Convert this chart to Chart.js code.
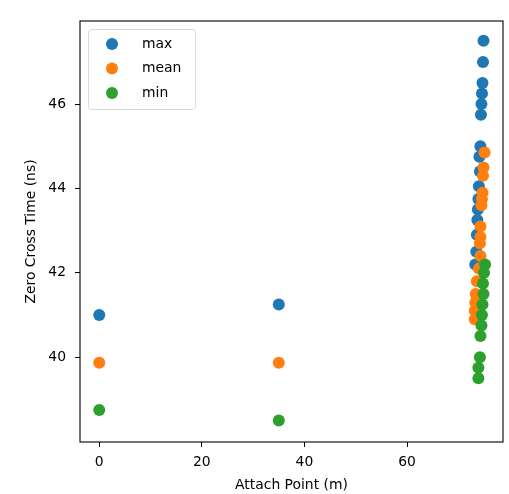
<!DOCTYPE html>
<html lang="en">
<head>
    <title>Zero Cross Time vs Attach Point</title>
    <meta charset="utf-8">
    <script src="https://cdn.jsdelivr.net/npm/chart.js"></script>
    <style>
        body {
            margin: 0;
            background: white;
        }
        #chart {
            display: block;
        }
    </style>
</head>
<body>
    <canvas id="chart" width="509" height="494"></canvas>

    <script>
        // data
        const seriesNames = ['max', 'mean', 'min'];
        const seriesColors = ['#1f77b4', '#ff7f0e', '#2ca02c'];

        const maxAttach = [0, 35, 74.9, 74.8, 74.7, 74.6, 74.5, 74.4, 74.3, 74.1, 74.2, 74.0, 73.9, 73.8, 73.7, 73.6, 73.5, 73.3];
        const maxTime = [41.0, 41.25, 47.5, 47.0, 46.5, 46.25, 46.0, 45.75, 45.0, 44.75, 44.4, 44.05, 43.75, 43.5, 43.25, 42.9, 42.5, 42.2];

        const meanAttach = [0, 35, 75.1, 74.9, 74.8, 74.7, 74.6, 74.5, 74.3, 74.3, 74.2, 74.3, 74.0, 73.6, 73.4, 73.3, 73.2, 73.2];
        const meanTime = [39.87, 39.87, 44.85, 44.5, 44.3, 43.9, 43.75, 43.6, 43.1, 42.85, 42.7, 42.4, 42.1, 41.8, 41.5, 41.3, 41.1, 40.9];

        const minAttach = [0, 35, 75.2, 75.0, 74.8, 74.9, 74.7, 74.6, 74.5, 74.3, 74.2, 73.9, 73.9];
        const minTime = [38.75, 38.5, 42.2, 42.0, 41.75, 41.5, 41.25, 41.0, 40.75, 40.5, 40.0, 39.75, 39.5];

        const xTicks = [0, 20, 40, 60];
        const yTicks = [40, 42, 44, 46];

        function toPoints(xs, ys) {
            return xs.map(function (x, i) { return { x: x, y: ys[i] }; });
        }

        const font = { family: 'DejaVu Sans', size: 13.9 };

        // box around the plot area, like matplotlib spines
        const frame = {
            id: 'frame',
            afterDraw(chart) {
                const a = chart.chartArea;
                const ctx = chart.ctx;
                ctx.save();
                ctx.strokeStyle = '#000';
                ctx.lineWidth = 1.1;
                ctx.strokeRect(a.left, a.top, a.right - a.left, a.bottom - a.top);
                ctx.restore();
            }
        };

        // legend in the upper left corner
        const boxLegend = {
            id: 'boxLegend',
            afterDraw(chart) {
                const ctx = chart.ctx;
                const x0 = 88, y0 = 29, w = 107, h = 80;
                ctx.save();
                ctx.fillStyle = 'rgba(255,255,255,0.8)';
                ctx.strokeStyle = '#d9d9d9';
                ctx.lineWidth = 1;
                ctx.beginPath();
                ctx.roundRect(x0 + 0.5, y0 + 0.5, w, h, 3);
                ctx.fill();
                ctx.stroke();
                ctx.font = '13.9px "DejaVu Sans"';
                ctx.textBaseline = 'middle';
                chart.data.datasets.forEach(function (ds, i) {
                    const cy = y0 + 15 + i * 24.5;
                    ctx.fillStyle = ds.backgroundColor;
                    ctx.beginPath();
                    ctx.arc(x0 + 24, cy, 6, 0, Math.PI * 2);
                    ctx.fill();
                    ctx.fillStyle = '#000';
                    ctx.fillText(ds.label, x0 + 54, cy);
                });
                ctx.restore();
            }
        };

        new Chart(document.getElementById('chart'), {
            type: 'scatter',
            data: {
                datasets: [
                    { label: seriesNames[0], data: toPoints(maxAttach, maxTime), backgroundColor: seriesColors[0], order: 3 },
                    { label: seriesNames[1], data: toPoints(meanAttach, meanTime), backgroundColor: seriesColors[1], order: 2 },
                    { label: seriesNames[2], data: toPoints(minAttach, minTime), backgroundColor: seriesColors[2], order: 1 }
                ]
            },
            options: {
                responsive: false,
                animation: false,
                layout: {
                    padding: { top: 21, right: 5, left: 0, bottom: 0 }
                },
                elements: {
                    point: { radius: 6, borderWidth: 0, hoverRadius: 6 }
                },
                plugins: {
                    legend: { display: false },
                    tooltip: { enabled: false }
                },
                scales: {
                    x: {
                        type: 'linear',
                        min: -3.75,
                        max: 78.7,
                        afterBuildTicks: function (axis) {
                            axis.ticks = xTicks.map(function (v) { return { value: v }; });
                        },
                        afterFit: function (axis) { axis.height = 52; },
                        grid: {
                            drawOnChartArea: false,
                            tickLength: 5,
                            tickColor: '#000',
                            tickWidth: 1
                        },
                        border: { display: false },
                        ticks: {
                            color: '#000',
                            font: font,
                            padding: 7,
                            maxRotation: 0
                        },
                        title: {
                            display: true,
                            text: 'Attach Point (m)',
                            color: '#000',
                            font: font,
                            padding: { top: 0, bottom: 0 }
                        }
                    },
                    y: {
                        type: 'linear',
                        min: 37.99,
                        max: 47.97,
                        afterBuildTicks: function (axis) {
                            axis.ticks = yTicks.map(function (v) { return { value: v }; });
                        },
                        afterFit: function (axis) { axis.width = 80; },
                        grid: {
                            drawOnChartArea: false,
                            tickLength: 5,
                            tickColor: '#000',
                            tickWidth: 1
                        },
                        border: { display: false },
                        ticks: {
                            color: '#000',
                            font: font,
                            padding: 9
                        },
                        title: {
                            display: true,
                            text: 'Zero Cross Time (ns)',
                            color: '#000',
                            font: font,
                            padding: { top: 23, bottom: 0 }
                        }
                    }
                }
            },
            plugins: [frame, boxLegend]
        });
    </script>
</body>
</html>
